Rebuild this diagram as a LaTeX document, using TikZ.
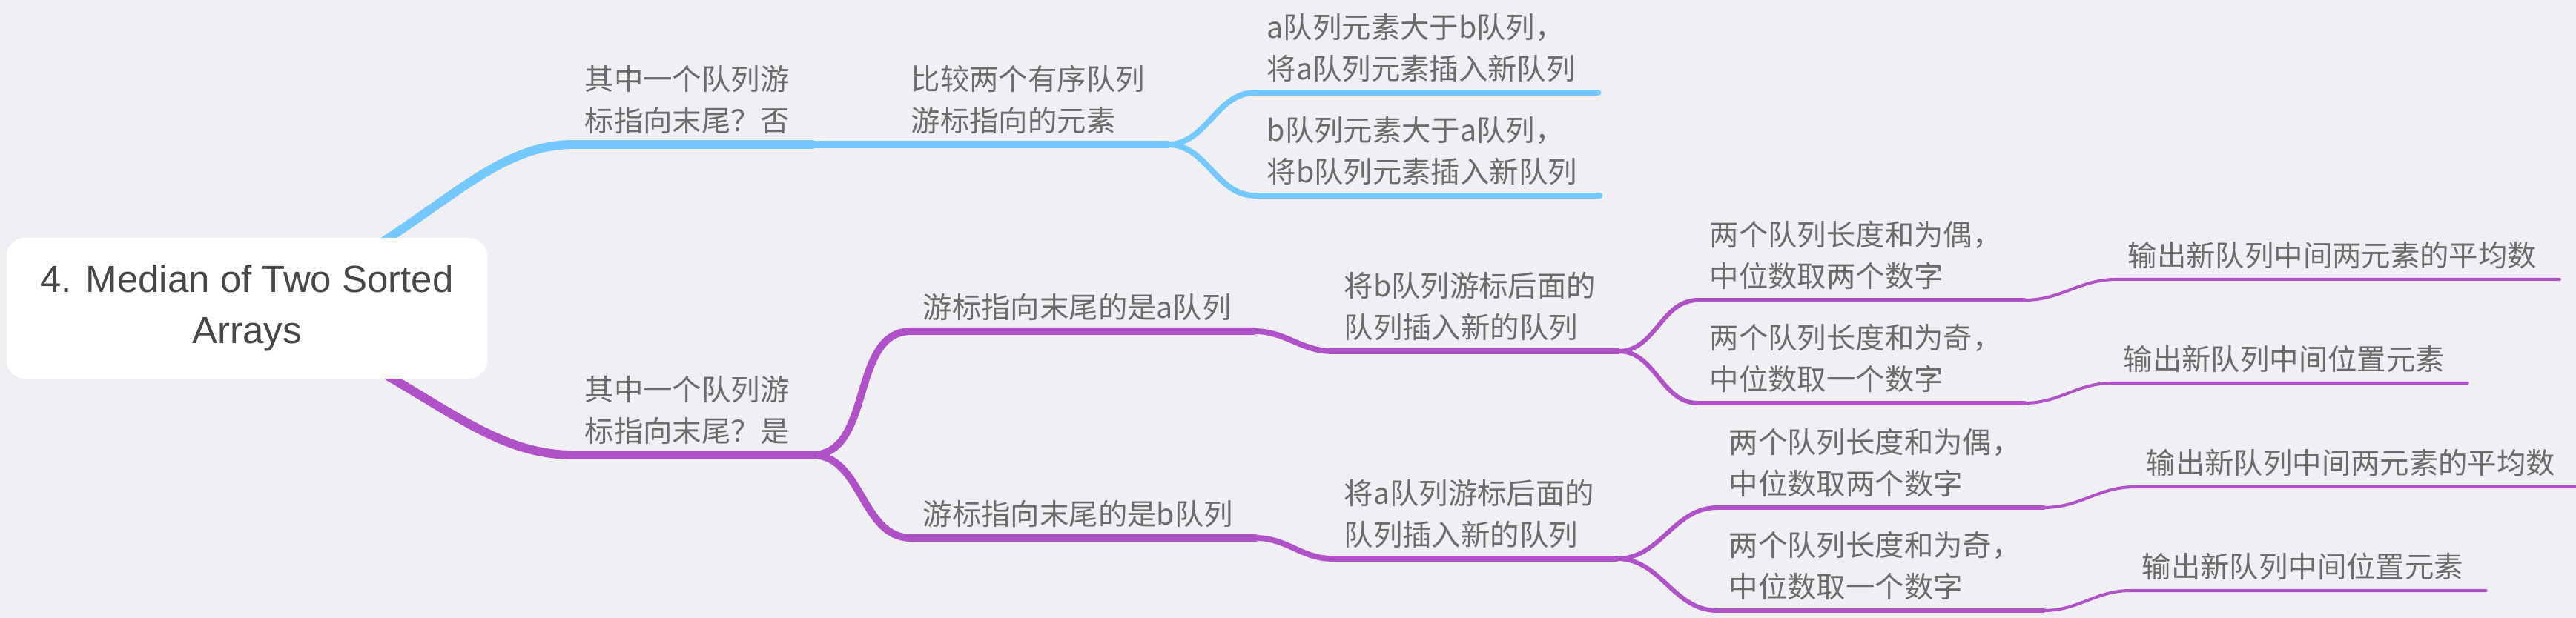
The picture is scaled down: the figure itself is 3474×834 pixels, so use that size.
\documentclass[tikz,border=0pt]{standalone}
\usepackage{fontspec}
\usepackage{xcolor}
\usetikzlibrary{positioning, calc}
\setmainfont{Liberation Sans}
\newfontfamily\cjk{Noto Sans CJK SC}
\definecolor{sky}{HTML}{75C8FF}
\definecolor{plum}{HTML}{B052C7}
\definecolor{bgc}{HTML}{EFEFF4}
\definecolor{txt}{HTML}{6B6B6B}
\definecolor{roottxt}{HTML}{474747}
\tikzstyle{rootbox} = [rectangle, rounded corners=0.25cm, fill=white, minimum width=6.48cm, minimum height=1.9cm, align=center, text=roottxt, font=\fontsize{14.5}{19.6}\selectfont]
\tikzstyle{topic} = [anchor=south west, inner xsep=0.15cm, inner ysep=0pt, align=left, text=txt, font=\cjk\fontsize{11.2}{15.9}\selectfont, execute at end node=\strut]
\tikzstyle{lvl1} = [line width=3.4pt, line cap=round]
\tikzstyle{lvl2} = [line width=2.85pt, line cap=round]
\tikzstyle{lvl3} = [line width=2.2pt, line cap=round]
\tikzstyle{lvl4} = [line width=1.7pt, line cap=round]
\tikzstyle{lvl5} = [line width=1.15pt, line cap=round]
\begin{document}
\begin{tikzpicture}[x=0.01cm, y=-0.01cm]

    \fill[bgc] (0,0) rectangle (3474,834);
    \useasboundingbox (0,0) rectangle (3474,834);
    \coordinate (rootc) at (333,416);

    % Ramo "否"
    \node (notend) [topic] at (773,195) {其中一个队列游\\标指向末尾？否};
    \node (compare) [topic] at (1213,195) {比较两个有序队列\\游标指向的元素};
    \node (agreater) [topic] at (1693,125) {a队列元素大于b队列，\\将a队列元素插入新队列};
    \node (bgreater) [topic] at (1693,264) {b队列元素大于a队列，\\将b队列元素插入新队列};

    % Ramo "是"
    \node (isend) [topic] at (773,614) {其中一个队列游\\标指向末尾？是};
    \node (enda) [topic] at (1229,447) {游标指向末尾的是a队列};
    \node (endb) [topic] at (1229,726) {游标指向末尾的是b队列};
    \node (insertb) [topic] at (1797,474) {将b队列游标后面的\\队列插入新的队列};
    \node (inserta) [topic] at (1797,754) {将a队列游标后面的\\队列插入新的队列};
    \node (evena) [topic] at (2290,405) {两个队列长度和为偶，\\中位数取两个数字};
    \node (odda) [topic] at (2290,544) {两个队列长度和为奇，\\中位数取一个数字};
    \node (evenb) [topic] at (2316,685) {两个队列长度和为偶，\\中位数取两个数字};
    \node (oddb) [topic] at (2316,824) {两个队列长度和为奇，\\中位数取一个数字};
    \node (avga) [topic] at (2854,377) {输出新队列中间两元素的平均数};
    \node (mida) [topic] at (2848,517) {输出新队列中间位置元素};
    \node (avgb) [topic] at (2879,657) {输出新队列中间两元素的平均数};
    \node (midb) [topic] at (2873,797) {输出新队列中间位置元素};

    % Fine delle sottolineature
    \foreach \n in {notend,compare,agreater,bgreater,isend,enda,endb,insertb,inserta,evena,odda,evenb,oddb,avga,mida,avgb,midb}
        \coordinate (\n-e) at ([xshift=0.15cm]\n.south east);

    % Rami blu
    \draw [lvl1, sky] (rootc) .. controls +(227,-76) and +(-133,0) .. (notend.south west) -- (notend-e);
    \draw [lvl2, sky] (notend-e) -- (compare.south west) -- (compare-e);
    \draw [lvl3, sky] (compare-e) to[out=0, in=180] (agreater.south west) -- (agreater-e);
    \draw [lvl3, sky] (compare-e) to[out=0, in=180] (bgreater.south west) -- (bgreater-e);

    % Rami viola
    \draw [lvl1, plum] (rootc) .. controls +(227,84) and +(-133,0) .. (isend.south west) -- (isend-e);
    \draw [lvl2, plum] (isend-e) to[out=0, in=180] (enda.south west) -- (enda-e);
    \draw [lvl2, plum] (isend-e) to[out=0, in=180] (endb.south west) -- (endb-e);
    \draw [lvl3, plum] (enda-e) to[out=0, in=180] (insertb.south west) -- (insertb-e);
    \draw [lvl3, plum] (endb-e) to[out=0, in=180] (inserta.south west) -- (inserta-e);
    \draw [lvl4, plum] (insertb-e) to[out=0, in=180] (evena.south west) -- (evena-e);
    \draw [lvl4, plum] (insertb-e) to[out=0, in=180] (odda.south west) -- (odda-e);
    \draw [lvl4, plum] (inserta-e) to[out=0, in=180] (evenb.south west) -- (evenb-e);
    \draw [lvl4, plum] (inserta-e) to[out=0, in=180] (oddb.south west) -- (oddb-e);
    \draw [lvl5, plum] (evena-e) to[out=0, in=180] (avga.south west) -- (avga-e);
    \draw [lvl5, plum] (odda-e) to[out=0, in=180] (mida.south west) -- (mida-e);
    \draw [lvl5, plum] (evenb-e) to[out=0, in=180] (avgb.south west) -- (avgb-e);
    \draw [lvl5, plum] (oddb-e) to[out=0, in=180] (midb.south west) -- (midb-e);

    % Nodo centrale
    \node (root) [rootbox] at (rootc) {4. Median of Two Sorted\\Arrays};

\end{tikzpicture}
\end{document}
